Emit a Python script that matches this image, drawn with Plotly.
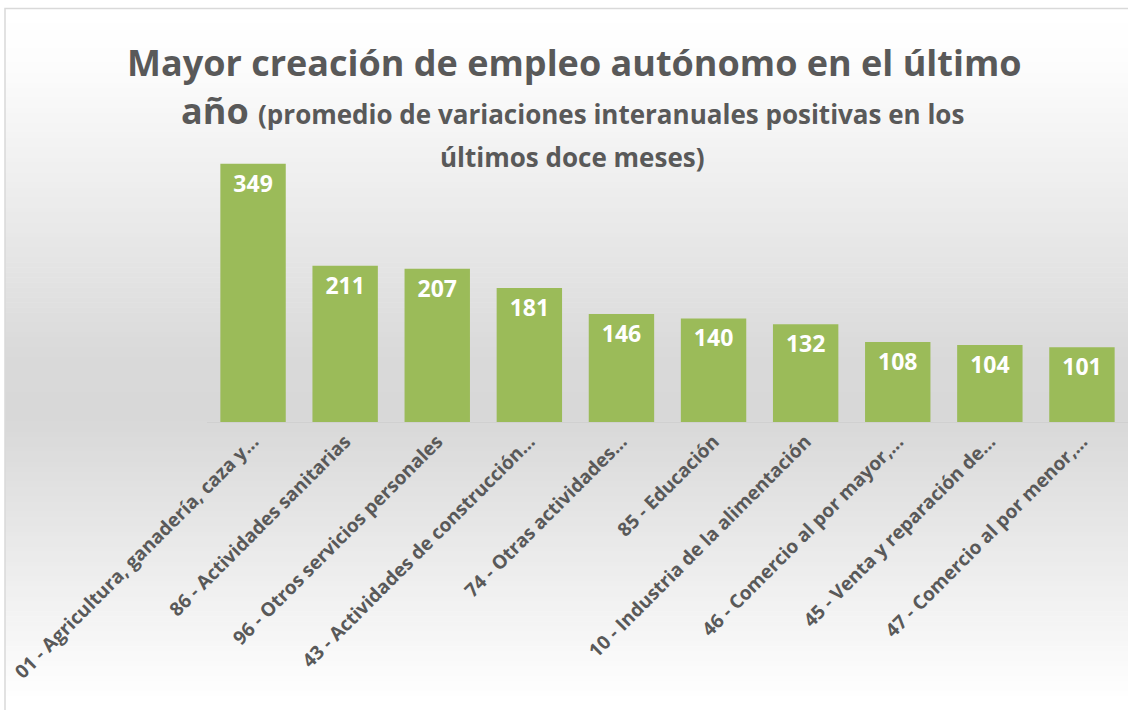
import plotly.graph_objects as go

categories = [
    "01 - Agricultura, ganadería, caza y...",
    "86 - Actividades sanitarias",
    "96 - Otros servicios personales",
    "43 - Actividades de construcción...",
    "74 - Otras actividades...",
    "85 - Educación",
    "10 - Industria de la alimentación",
    "46 - Comercio al por mayor,...",
    "45 - Venta y reparación de...",
    "47 - Comercio al por menor,...",
]
values = [349, 211, 207, 181, 146, 140, 132, 108, 104, 101]

W, H = 1128, 710
ML, MR, MT, MB = 207, 0, 126, 288
PW, PH = W - ML - MR, H - MT - MB

def px2x(px):
    return (px - ML) / PW

def py2y(py):
    return (H - MB - py) / PH

FONT = "Open Sans"
GREY = "#595959"

fig = go.Figure(go.Bar(
    x=categories, y=values,
    marker=dict(color="#9BBB59", line=dict(width=0)),
    text=[str(v) for v in values],
    textposition="inside", insidetextanchor="end",
    textfont=dict(family=FONT, size=23, color="white", weight="bold"),
    textangle=0,
    cliponaxis=False,
))

# background gradient bands (chart-area styling)
shapes = []
def lerp(a, b, t):
    return a + (b - a) * t
stops = [(8, 255), (60, 253), (360, 217), (420, 216), (700, 255)]
top, bot = 8, 706
n = 140
step = (bot - top) / n
for i in range(n):
    y0 = top + i * step
    ym = y0 + step / 2
    for j in range(len(stops) - 1):
        if stops[j][0] <= ym <= stops[j + 1][0]:
            t = (ym - stops[j][0]) / (stops[j + 1][0] - stops[j][0])
            c = int(round(lerp(stops[j][1], stops[j + 1][1], t)))
            break
    else:
        c = 255
    shapes.append(dict(type="rect", xref="paper", yref="paper", layer="below",
                       x0=px2x(5), x1=px2x(W + 2), y0=py2y(y0), y1=py2y(y0 + step + 0.6),
                       fillcolor=f"rgb({c},{c},{c})", line=dict(width=0)))
# frame
shapes.append(dict(type="rect", xref="paper", yref="paper", layer="above",
                   x0=px2x(5), x1=px2x(W + 5), y0=py2y(H + 5), y1=py2y(8.5),
                   fillcolor="rgba(0,0,0,0)", line=dict(color="#d9d9d9", width=1.5)))

annotations = [
    dict(text="<b>Mayor creación de empleo autónomo en el último</b>",
         xref="paper", yref="paper", x=px2x(574), y=py2y(62), xanchor="center", yanchor="middle",
         showarrow=False, font=dict(family=FONT, size=36, color=GREY)),
    dict(text="<b>año</b> <b><span style='font-size:26px'>(promedio de variaciones interanuales positivas en los</span></b>",
         xref="paper", yref="paper", x=px2x(572), y=py2y(110), xanchor="center", yanchor="middle",
         showarrow=False, font=dict(family=FONT, size=36, color=GREY)),
    dict(text="<b>últimos doce meses)</b>",
         xref="paper", yref="paper", x=px2x(572), y=py2y(157), xanchor="center", yanchor="middle",
         showarrow=False, font=dict(family=FONT, size=26, color=GREY)),
]

fig.update_layout(
    width=W, height=H,
    margin=dict(l=ML, r=MR, t=MT, b=MB, autoexpand=False),
    paper_bgcolor="white", plot_bgcolor="rgba(0,0,0,0)",
    bargap=0.29,
    showlegend=False,
    shapes=shapes,
    annotations=annotations,
    xaxis=dict(tickangle=-45, showgrid=False, showline=True, linecolor="#d0d0d0", linewidth=1,
               ticks="", automargin=False,
               tickfont=dict(family=FONT, size=19, color=GREY, weight="bold")),
    yaxis=dict(range=[0, 400], visible=False, showgrid=False, zeroline=False, automargin=False),
)

fig.write_html("out.html", config={"displayModeBar": False},
               post_script="document.body.style.margin='0';")
